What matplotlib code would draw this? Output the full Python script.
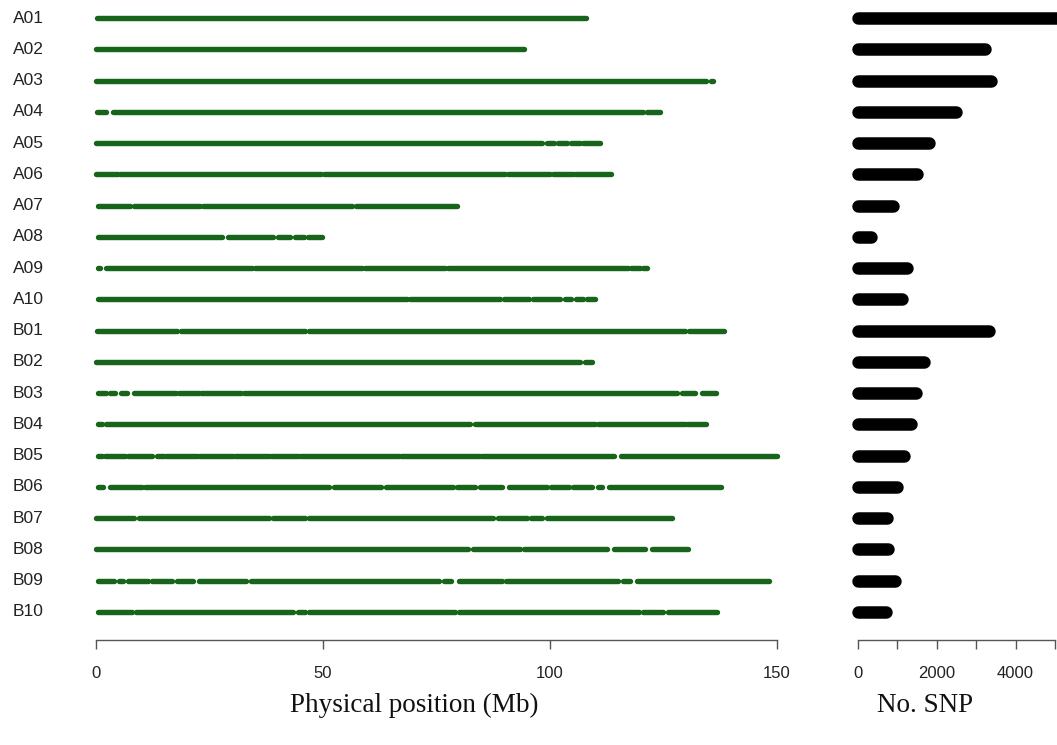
import matplotlib.pyplot as plt
import numpy as np

# chromosome names, top to bottom
chroms = ['A01', 'A02', 'A03', 'A04', 'A05', 'A06', 'A07', 'A08', 'A09', 'A10',
          'B01', 'B02', 'B03', 'B04', 'B05', 'B06', 'B07', 'B08', 'B09', 'B10']

# SNP-covered stretches (Mb), gaps between them
seg_A01 = [(0.3, 108.0)]
seg_A02 = [(0.0, 94.2)]
seg_A03 = [(0.0, 134.5), (135.4, 135.9)]
seg_A04 = [(0.3, 2.3), (3.7, 120.5), (121.5, 124.2)]
seg_A05 = [(0.0, 98.3), (99.3, 100.8), (101.8, 103.8), (104.7, 106.7), (107.4, 111.1)]
seg_A06 = [(0.0, 4.8), (5.4, 49.6), (50.2, 90.2), (90.8, 100.0), (100.6, 105.0), (105.6, 113.5)]
seg_A07 = [(0.5, 7.6), (8.3, 23.0), (23.6, 56.5), (57.2, 79.5)]
seg_A08 = [(0.5, 27.7), (29.0, 39.0), (40.0, 42.8), (43.8, 45.8), (46.8, 49.8)]
seg_A09 = [(0.5, 0.8), (2.3, 34.4), (35.0, 58.6), (59.2, 77.0), (77.6, 117.1), (117.8, 119.8), (120.6, 121.4)]
seg_A10 = [(0.5, 68.5), (69.2, 88.9), (89.9, 95.4), (96.3, 102.3), (103.3, 104.7), (105.7, 107.2), (108.2, 110.0)]
seg_B01 = [(0.3, 17.8), (18.8, 46.0), (47.0, 129.8), (130.6, 138.3)]
seg_B02 = [(0.0, 106.7), (107.8, 109.2)]
seg_B03 = [(0.5, 2.3), (3.0, 4.3), (5.5, 6.8), (8.4, 17.6), (18.2, 22.6), (23.2, 32.0),
           (32.6, 128.0), (129.0, 131.9), (133.6, 136.6)]
seg_B04 = [(0.5, 1.4), (2.3, 82.5), (83.5, 110.0), (110.7, 129.8), (130.3, 134.4)]
seg_B05 = [(0.5, 1.3), (2.0, 6.5), (7.0, 12.4), (13.4, 14.9), (15.4, 22.3), (22.8, 30.2),
           (30.7, 38.1), (38.6, 44.5), (45.0, 66.7), (67.2, 84.5), (85.0, 114.1), (115.6, 150.0)]
seg_B06 = [(0.5, 1.6), (3.0, 10.2), (10.8, 51.4), (52.4, 62.8), (63.8, 78.6), (79.6, 83.5),
           (84.5, 89.4), (90.9, 99.3), (100.3, 104.2), (105.2, 109.2), (110.5, 111.5), (113.0, 137.6)]
seg_B07 = [(0.0, 8.4), (9.4, 38.1), (39.1, 46.0), (47.0, 87.5), (88.5, 94.9), (95.8, 98.3), (99.3, 127.0)]
seg_B08 = [(0.0, 82.0), (83.0, 93.4), (94.4, 112.6), (114.1, 121.0), (122.5, 130.4)]
seg_B09 = [(0.5, 4.0), (5.0, 6.0), (7.0, 11.4), (12.4, 16.8), (17.8, 21.3), (22.8, 33.1),
           (34.1, 75.6), (76.6, 78.2), (80.0, 89.4), (90.4, 115.1), (116.1, 117.6), (119.1, 148.2)]
seg_B10 = [(0.5, 7.9), (8.9, 43.5), (44.5, 46.0), (47.0, 79.1), (80.0, 119.6), (120.6, 125.0), (126.0, 136.8)]

segments = [seg_A01, seg_A02, seg_A03, seg_A04, seg_A05, seg_A06, seg_A07, seg_A08, seg_A09, seg_A10,
            seg_B01, seg_B02, seg_B03, seg_B04, seg_B05, seg_B06, seg_B07, seg_B08, seg_B09, seg_B10]

# number of SNPs per chromosome
snp_counts = [5400, 3220, 3380, 2480, 1800, 1500, 890, 330, 1240, 1120,
              3320, 1680, 1470, 1350, 1170, 990, 740, 760, 940, 710]

pos_ticks = [0, 50, 100, 150]
snp_ticks = [0, 1000, 2000, 3000, 4000, 5000]
snp_tick_labels = ['0', '', '2000', '', '4000', '']

W, H = 1057, 745
fig = plt.figure(figsize=(W / 100, H / 100), dpi=100)

bottom = (H - 640) / H
height = 640 / H
ax = fig.add_axes([80 / W, bottom, 710 / W, height])
ax2 = fig.add_axes([840 / W, bottom, 217 / W, height])

green = '#16651a'
for i, segs in enumerate(segments):
    for s, e in segs:
        ax.plot([s, e], [i, i], color=green, lw=3.9, solid_capstyle='round')
    ax.text(-0.095, i, chroms[i], transform=ax.get_yaxis_transform(),
            ha='left', va='center', fontsize=12.5, family='Liberation Sans', color='#222222')

for i, n in enumerate(snp_counts):
    ax2.plot([0, n], [i, i], color='black', lw=9, solid_capstyle='round')

for a in (ax, ax2):
    a.set_ylim(19.9, -0.576)
    a.set_yticks([])
    for sp in ('top', 'right', 'left'):
        a.spines[sp].set_visible(False)
    a.spines['bottom'].set_color('#555555')
    a.spines['bottom'].set_linewidth(1.0)
    a.tick_params(axis='x', length=6.5, width=1.0, color='#555555', pad=12,
                  labelsize=12, labelcolor='#222222')
    a.patch.set_visible(False)

ax.set_xlim(-3.52, 152.9)
ax.set_xticks(pos_ticks)
ax.spines['bottom'].set_bounds(0, 150)

ax2.set_xlim(-457, 5051)
ax2.set_xticks(snp_ticks)
ax2.set_xticklabels(snp_tick_labels)
ax2.spines['bottom'].set_bounds(0, 5000)

for a in (ax, ax2):
    for lab in a.get_xticklabels():
        lab.set_family('Liberation Sans')

fig.text(414 / W, 1 - 705 / H, 'Physical position (Mb)', ha='center', va='center',
         fontsize=19.5, family='Liberation Serif', color='#111111')
fig.text(925 / W, 1 - 705 / H, 'No. SNP', ha='center', va='center',
         fontsize=19.5, family='Liberation Serif', color='#111111')

fig.savefig('out.png', dpi=100)
